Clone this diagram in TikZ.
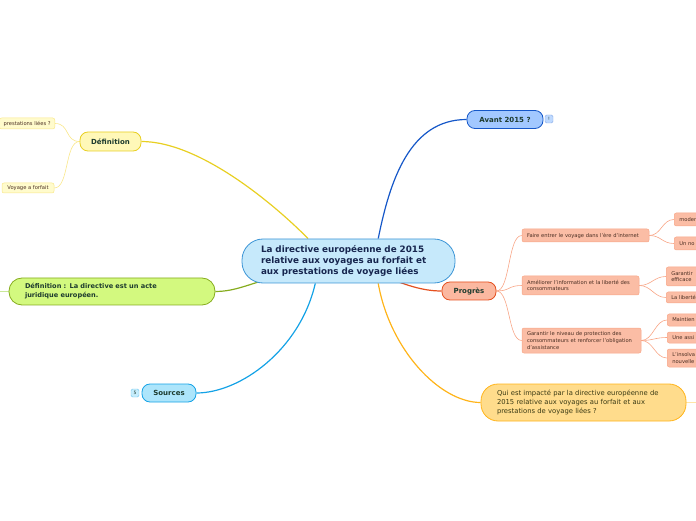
\documentclass[tikz,border=0pt]{standalone}
\usepackage{fontspec}
\setmainfont{DejaVu Sans}
\usepackage{xcolor}
\usepackage{tikz}
\usetikzlibrary{positioning,backgrounds}
\definecolor{rootfill}{HTML}{C6E9FB}
\definecolor{rootline}{HTML}{3C95D6}
\definecolor{rootink}{HTML}{17264F}
\definecolor{ink}{HTML}{1D3B2E}
\definecolor{inkbrown}{HTML}{4A2E22}
\definecolor{bluefill}{HTML}{A2C8FF}
\definecolor{blueline}{HTML}{1557C8}
\definecolor{yelfill}{HTML}{FFF8B8}
\definecolor{yelline}{HTML}{E8CF22}
\definecolor{yelpale}{HTML}{FFFBCC}
\definecolor{yelpaleline}{HTML}{F9E78A}
\definecolor{grnfill}{HTML}{D3F97F}
\definecolor{grnline}{HTML}{86AC1E}
\definecolor{grnpale}{HTML}{C9E89A}
\definecolor{cyanfill}{HTML}{ADE5FB}
\definecolor{cyanline}{HTML}{14A2E6}
\definecolor{redfill}{HTML}{FBB8A0}
\definecolor{redline}{HTML}{E5501F}
\definecolor{redpale}{HTML}{FBBDA5}
\definecolor{redpaleline}{HTML}{F8A586}
\definecolor{orgfill}{HTML}{FFDC8C}
\definecolor{orgline}{HTML}{FFB41A}
\definecolor{orgink}{HTML}{3A3A14}
\definecolor{orgpale}{HTML}{FFE5A6}
\tikzset{
  root/.style      = {draw=rootline, fill=rootfill, line width=0.8pt, rounded corners=21pt,
                      font=\fontsize{8.8}{10.8}\selectfont\bfseries\color{rootink}, align=left,
                      text width=175pt, inner xsep=19pt, inner ysep=0pt, minimum height=44pt},
  topic/.style     = {line width=0.8pt, rounded corners=8pt, inner sep=0pt,
                      font=\fontsize{7}{8}\selectfont\bfseries\color{ink}, minimum height=18pt},
  widetopic/.style = {line width=0.8pt, rounded corners=13pt, inner xsep=16pt, inner ysep=0pt, align=left},
  leaf/.style      = {line width=0.5pt, rounded corners=2pt, inner xsep=5pt, inner ysep=0pt, align=left,
                      font=\fontsize{5.2}{6.6}\selectfont\color{inkbrown}},
  cutleaf/.style   = {leaf, anchor=west, minimum width=40pt, text width=30pt, draw=redpaleline, fill=redpale},
  badge/.style     = {draw, line width=0.4pt, rounded corners=1.5pt, minimum size=8pt, inner sep=0pt,
                      font=\fontsize{4.5}{5}\selectfont\color{ink}},
  branch/.style    = {line width=1.2pt},
  twig/.style      = {line width=0.6pt},
}

\begin{document}
\begin{tikzpicture}[x=1pt,y=1pt]
\path[use as bounding box] (0,0) rectangle (696,520);

% ---- root ---------------------------------------------------------------
\node[root] (central) at (348.5,259)
  {La directive européenne de 2015\\relative aux voyages au forfait et\\aux prestations de voyage liées};

% ---- main topics --------------------------------------------------------
\node[topic, draw=blueline, fill=bluefill, minimum width=76pt] (avant) at (505,400.5) {Avant 2015 ?};
\node[badge, draw=blueline!50, fill=bluefill!70] (avantbadge) at (549,401) {!};

\node[topic, draw=yelline, fill=yelfill, minimum width=61pt, minimum height=19pt] (definition) at (110.5,378.5) {Définition};

\node[widetopic, draw=grnline, fill=grnfill, text width=174pt, minimum height=27pt,
      font=\fontsize{6.6}{9}\selectfont\bfseries\color{ink}] (defacte) at (112,228.5)
  {Définition : La directive est un acte\\juridique européen.};

\node[topic, draw=cyanline, fill=cyanfill, minimum width=54pt] (sources) at (169,127) {Sources};
\node[badge, draw=cyanline!60, fill=cyanfill!70] (sourcesbadge) at (135,127) {5};

\node[topic, draw=redline, fill=redfill, minimum width=54pt] (progres) at (469,229) {Progrès};

\node[widetopic, rounded corners=17pt, draw=orgline, fill=orgfill, text width=173pt, minimum height=37pt,
      font=\fontsize{6.8}{8.8}\selectfont\color{orgink}] (qui) at (583.5,117.5)
  {Qui est impacté par la directive européenne de\\2015 relative aux voyages au forfait et aux\\prestations de voyage liées ?};

% ---- under Définition ---------------------------------------------------
\node[leaf, draw=yelpaleline, fill=yelpale, anchor=east, minimum height=11pt, inner xsep=4pt] (defq) at (55,396.5) {prestations liées ?};
\node[leaf, draw=yelpaleline, fill=yelpale, minimum width=52pt, minimum height=10pt] (defvoyage) at (28,332) {Voyage a forfait};

% ---- under Progrès ------------------------------------------------------
\node[leaf, draw=redpaleline, fill=redpale, text width=117pt, minimum height=13pt] (web) at (585.5,284.5)
  {Faire entrer le voyage dans l'ère d'internet};
\node[leaf, draw=redpaleline, fill=redpale, text width=107pt, minimum height=19pt] (info) at (580.5,234.5)
  {Améliorer l'information et la liberté des\\consommateurs};
\node[leaf, draw=redpaleline, fill=redpale, text width=109pt, minimum height=25pt] (protect) at (581.5,179.5)
  {Garantir le niveau de protection des\\consommateurs et renforcer l'obligation\\d'assistance};

\node[cutleaf, minimum height=13pt] (webmod) at (674,300.5) {moder};
\node[cutleaf, minimum height=13pt] (webnew) at (674,276.5) {Un no};
\node[cutleaf, minimum height=19pt] (infogar) at (666,243.5) {Garantir\\efficace};
\node[cutleaf, minimum height=11pt] (infolib) at (666,222.5) {La liberté};
\node[cutleaf, minimum height=12pt] (protmain) at (667,200) {Maintien};
\node[cutleaf, minimum height=11pt] (protassist) at (667,182.5) {Une assi};
\node[cutleaf, minimum height=18pt] (protinsolv) at (667,162) {L'insolva\\nouvelle};

\coordinate (acteoff) at (-3,228.5);
\coordinate (quioff) at (700,117.5);

% ---- connectors ---------------------------------------------------------
\begin{scope}[on background layer]
\draw[branch, blueline] (central.37)  .. controls (390,340) and (410,400.5) .. (avant.west);
\draw[branch, yelline]  (central.151.5) .. controls (275,315) and (200,378.5) .. (definition.east);
\draw[branch, grnline]  (central.center) .. controls (260,245) and (245,228.5) .. (defacte.east);
\draw[branch, cyanline] (central.214) .. controls (300,170) and (240,127) .. (sources.east);
\draw[branch, redline]  (central.center) .. controls (400,236) and (420,229) .. (progres.west);
\draw[branch, orgline]  (central.323) .. controls (390,170) and (440,117.5) .. (qui.west);

\draw[twig, yelpaleline] (definition.west) .. controls +(-15,0) and +(15,0) .. (defq.east);
\draw[twig, yelpaleline] (definition.west) .. controls +(-15,0) and +(15,0) .. (defvoyage.east);
\draw[twig, grnpale]     (defacte.west) -- (acteoff);
\draw[twig, orgpale]     (qui.east) -- (quioff);

\foreach \kid in {web,info,protect}
  \draw[twig, redpaleline] (progres.east) .. controls +(14,0) and +(-14,0) .. (\kid.west);
\foreach \kid in {webmod,webnew}
  \draw[twig, redpaleline] (web.east) .. controls +(12,0) and +(-12,0) .. (\kid.west);
\foreach \kid in {infogar,infolib}
  \draw[twig, redpaleline] (info.east) .. controls +(12,0) and +(-12,0) .. (\kid.west);
\foreach \kid in {protmain,protassist,protinsolv}
  \draw[twig, redpaleline] (protect.east) .. controls +(12,0) and +(-12,0) .. (\kid.west);
\end{scope}

\end{tikzpicture}
\end{document}
